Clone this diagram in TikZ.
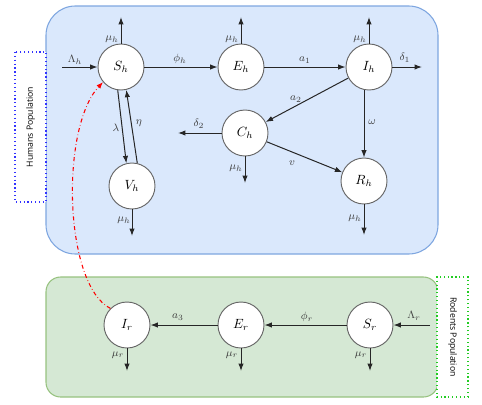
\documentclass[tikz,border=0pt]{standalone}
\usepackage{fontspec}
\newfontfamily\popfont{Open Sans}
\usetikzlibrary{arrows.meta}
\definecolor{hfill}{HTML}{DAE8FC}
\definecolor{hline}{HTML}{7EA6E0}
\definecolor{rfill}{HTML}{D5E8D4}
\definecolor{rline}{HTML}{97C27F}
\definecolor{hdot}{HTML}{3333FF}
\definecolor{rdot}{HTML}{22CC22}
\begin{document}
\begin{tikzpicture}[x=0.75pt,y=-0.75pt,
  comp/.style={circle,draw=black!60,fill=white,line width=0.7pt,minimum size=34.5pt,inner sep=0pt,font=\normalsize},
  flow/.style={draw=black!85,line width=0.75pt,-{Latex[length=5.5pt,width=4pt]}},
  rate/.style={font=\footnotesize,inner sep=1pt,text=black!75},
  popbox/.style={draw,dotted,line width=0.9pt,fill=white,font=\popfont\fontsize{6.5}{8}\selectfont,inner sep=0pt}
]
\useasboundingbox (0,0) rectangle (482,404);
% population boxes
\draw[hline,fill=hfill,line width=0.8pt,rounded corners=22pt] (46,6) rectangle (438,254);
\draw[rline,fill=rfill,line width=0.8pt,rounded corners=11pt] (46,277) rectangle (438,397);
\node[popbox,draw=hdot,rotate=90,minimum width=112.5pt,minimum height=23.25pt] (hlab) at (30.5,127) {Humans Population};
\node[popbox,draw=rdot,rotate=-90,minimum width=90pt,minimum height=23.25pt] (rlab) at (452.5,337) {Rodents Population};
% compartments
\node[comp] (Sh) at (121,67) {$S_h$};
\node[comp] (Eh) at (241,67) {$E_h$};
\node[comp] (Ih) at (369,67) {$I_h$};
\node[comp] (Ch) at (245,133) {$C_h$};
\node[comp] (Vh) at (132,186) {$V_h$};
\node[comp] (Rh) at (364,181) {$R_h$};
\node[comp] (Ir) at (127,325) {$I_r$};
\node[comp] (Er) at (241,325) {$E_r$};
\node[comp] (Sr) at (370,325) {$S_r$};
% free ends
\coordinate (ShU) at (121,17);
\coordinate (EhU) at (241,17);
\coordinate (IhU) at (369,17);
\coordinate (LhS) at (62,67);
\coordinate (D1E) at (422,67);
\coordinate (D2E) at (178,133);
\coordinate (ChD) at (245,183);
\coordinate (VhD) at (132,236);
\coordinate (RhD) at (364,235);
\coordinate (LrS) at (430,325);
\coordinate (IrD) at (127,371);
\coordinate (ErD) at (241,371);
\coordinate (SrD) at (370,371);
% human flows
\draw[flow] (Sh) -- (ShU);
\draw[flow] (Eh) -- (EhU);
\draw[flow] (Ih) -- (IhU);
\draw[flow] (LhS) -- (Sh);
\draw[flow] (Sh) -- (Eh);
\draw[flow] (Eh) -- (Ih);
\draw[flow] (Ih) -- (D1E);
\draw[flow] (Ih) -- (Ch);
\draw[flow] (Ih.south -| Rh.north) -- (Rh);
\draw[flow] (Ch) -- (Rh);
\draw[flow] (Ch) -- (D2E);
\draw[flow] (Ch) -- (ChD);
\draw[flow] (Sh.262) -- (Vh.104);
\draw[flow] (Vh.77) -- (Sh.283);
\draw[flow] (Vh) -- (VhD);
\draw[flow] (Rh) -- (RhD);
% rodent flows
\draw[flow] (LrS) -- (Sr);
\draw[flow] (Sr) -- (Er);
\draw[flow] (Er) -- (Ir);
\draw[flow] (Ir) -- (IrD);
\draw[flow] (Er) -- (ErD);
\draw[flow] (Sr) -- (SrD);
% spillover
\draw[red,dash dot,line width=0.8pt,-{Latex[length=5pt,width=3.8pt]}] (Ir.135) .. controls (64,285) and (60,128) .. (Sh.220);
% rate labels
\node[rate] (l1) at (112,39) {$\mu_h$};
\node[rate] (l2) at (232,39) {$\mu_h$};
\node[rate] (l3) at (360,39) {$\mu_h$};
\node[rate] (l4) at (75,60) {$\Lambda_h$};
\node[rate] (l5) at (180,59) {$\phi_h$};
\node[rate] (l6) at (305,60) {$a_1$};
\node[rate] (l7) at (405,58) {$\delta_1$};
\node[rate] (l8) at (296,99) {$a_2$};
\node[rate] (l9) at (372,122) {$\omega$};
\node[rate] (l10) at (292,163) {$v$};
\node[rate] (l11) at (199,124) {$\delta_2$};
\node[rate] (l12) at (116,128) {$\lambda$};
\node[rate] (l13) at (139,123) {$\eta$};
\node[rate] (l14) at (236,168) {$\mu_h$};
\node[rate] (l15) at (124,220) {$\mu_h$};
\node[rate] (l16) at (355,218) {$\mu_h$};
\node[rate] (l17) at (414,316) {$\Lambda_r$};
\node[rate] (l18) at (307,317) {$\phi_r$};
\node[rate] (l19) at (178,317) {$a_3$};
\node[rate] (l20) at (118,355) {$\mu_r$};
\node[rate] (l21) at (232,355) {$\mu_r$};
\node[rate] (l22) at (361,355) {$\mu_r$};
\end{tikzpicture}
\end{document}
